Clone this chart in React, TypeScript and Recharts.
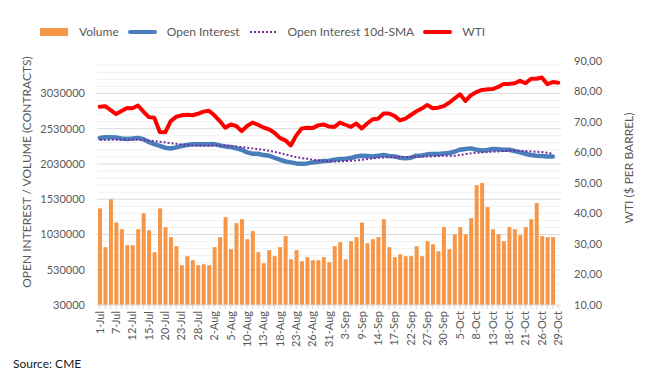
import React from 'react'
import {
  Bar,
  CartesianGrid,
  ComposedChart,
  Line,
  XAxis,
  YAxis
} from 'recharts'

const dates = [
  '1-Jul', '2-Jul', '6-Jul', '7-Jul', '8-Jul', '9-Jul', '12-Jul', '13-Jul', '14-Jul', '15-Jul',
  '16-Jul', '19-Jul', '20-Jul', '21-Jul', '22-Jul', '23-Jul', '26-Jul', '27-Jul', '28-Jul', '29-Jul',
  '30-Jul', '2-Aug', '3-Aug', '4-Aug', '5-Aug', '6-Aug', '9-Aug', '10-Aug', '11-Aug', '12-Aug',
  '13-Aug', '16-Aug', '17-Aug', '18-Aug', '19-Aug', '20-Aug', '23-Aug', '24-Aug', '25-Aug', '26-Aug',
  '27-Aug', '30-Aug', '31-Aug', '1-Sep', '2-Sep', '3-Sep', '7-Sep', '8-Sep', '9-Sep', '10-Sep',
  '13-Sep', '14-Sep', '15-Sep', '16-Sep', '17-Sep', '20-Sep', '21-Sep', '22-Sep', '23-Sep', '24-Sep',
  '27-Sep', '28-Sep', '29-Sep', '30-Sep', '1-Oct', '4-Oct', '5-Oct', '6-Oct', '7-Oct', '8-Oct',
  '11-Oct', '12-Oct', '13-Oct', '14-Oct', '15-Oct', '18-Oct', '19-Oct', '20-Oct', '21-Oct', '22-Oct',
  '25-Oct', '26-Oct', '27-Oct', '28-Oct', '29-Oct'
]

// volume in thousands of contracts (last day not yet published)
const volume = [
  1400, 850, 1530, 1200, 1105, 878, 878, 1105, 1330, 1090,
  779, 1400, 1134, 992, 864, 594, 722, 665, 594, 608,
  594, 850, 992, 1276, 821, 1190, 1247, 963, 1077, 779,
  622, 807, 722, 850, 1006, 679, 807, 651, 708, 665,
  665, 708, 637, 864, 921, 679, 935, 992, 1200, 906,
  963, 992, 1247, 850, 708, 750, 722, 722, 864, 722,
  935, 892, 793, 1134, 821, 1034, 1134, 1034, 1262, 1730,
  1759, 1418, 1105, 1034, 935, 1134, 1105, 1020, 1134, 1247,
  1475, 1006, 992, 992, null
]

// open interest in millions of contracts
const openInterest = [
  2.398, 2.41, 2.41, 2.405, 2.39, 2.385, 2.39, 2.4, 2.38, 2.34,
  2.31, 2.285, 2.26, 2.25, 2.265, 2.285, 2.3, 2.31, 2.31, 2.31,
  2.31, 2.312, 2.293, 2.279, 2.27, 2.251, 2.232, 2.194, 2.175, 2.175,
  2.156, 2.147, 2.118, 2.09, 2.066, 2.052, 2.038, 2.033, 2.038, 2.052,
  2.061, 2.071, 2.076, 2.09, 2.099, 2.104, 2.114, 2.137, 2.147, 2.142,
  2.137, 2.147, 2.156, 2.142, 2.137, 2.118, 2.109, 2.118, 2.147, 2.151,
  2.166, 2.17, 2.17, 2.178, 2.185, 2.203, 2.232, 2.241, 2.251, 2.232,
  2.222, 2.227, 2.241, 2.237, 2.232, 2.232, 2.213, 2.194, 2.175, 2.156,
  2.147, 2.142, 2.137, 2.137, null
]

const oiSma = [
  2.369, 2.369, 2.374, 2.374, 2.374, 2.374, 2.374, 2.374, 2.369, 2.364,
  2.355, 2.345, 2.336, 2.326, 2.317, 2.307, 2.298, 2.293, 2.288, 2.288,
  2.288, 2.293, 2.293, 2.288, 2.284, 2.279, 2.27, 2.26, 2.251, 2.241,
  2.232, 2.217, 2.203, 2.184, 2.165, 2.146, 2.127, 2.113, 2.104, 2.09,
  2.08, 2.075, 2.071, 2.066, 2.066, 2.071, 2.075, 2.08, 2.09, 2.099,
  2.108, 2.118, 2.123, 2.127, 2.127, 2.127, 2.127, 2.127, 2.132, 2.137,
  2.137, 2.137, 2.142, 2.146, 2.146, 2.146, 2.156, 2.17, 2.18, 2.189,
  2.194, 2.198, 2.203, 2.208, 2.213, 2.217, 2.217, 2.217, 2.213, 2.208,
  2.203, 2.198, 2.189, 2.175, null
]

const wti = [
  75.0, 75.2, 73.9, 72.6, 73.6, 74.6, 74.5, 75.4, 73.4, 71.6,
  71.4, 66.7, 66.6, 70.3, 71.7, 72.2, 72.4, 72.2, 72.7, 73.4,
  73.7, 72.2, 70.3, 68.1, 69.2, 68.7, 67.0, 68.7, 69.8, 69.1,
  68.2, 67.6, 66.5, 64.8, 64.0, 62.3, 65.6, 67.9, 68.1, 68.0,
  68.9, 69.2, 68.5, 68.4, 69.8, 69.1, 68.4, 69.5, 67.9, 69.5,
  70.9, 71.1, 72.8, 72.8, 72.0, 70.5, 71.1, 72.3, 73.5, 74.4,
  75.6, 74.5, 74.7, 75.2, 76.3, 77.7, 79.1, 76.9, 78.8, 79.8,
  80.5, 80.7, 80.8, 81.5, 82.5, 82.5, 82.7, 83.5, 82.7, 84.2,
  84.2, 84.6, 82.4, 83.1, 82.9
]

const leftTicks = [30000, 530000, 1030000, 1530000, 2030000, 2530000, 3030000]
const rightTicks = [10, 20, 30, 40, 50, 60, 70, 80, 90]

// gridlines every 100k; every fifth one is a major line
const gridValues: number[] = []
for (let v = 130000; v <= 3430000; v += 100000) gridValues.push(v)

const data = dates.map((d, i) => ({
  date: d,
  volume: volume[i] == null ? null : volume[i]! * 1000,
  oi: openInterest[i] == null ? null : openInterest[i]! * 1000000,
  sma: oiSma[i] == null ? null : oiSma[i]! * 1000000,
  wti: wti[i]
}))

const FONT = 'Lato, "Liberation Sans", sans-serif'
const TEXT = '#595959'
const ORANGE = '#F79646'
const BLUE = '#4A7EBB'
const PURPLE = '#7030A0'
const RED = '#FF0000'

const GridLine = (p: any) => {
  if (p.y1 !== p.y2) return <g key={p.key} />
  const v = gridValues[p.index]
  const major = v != null && (v - 30000) % 500000 === 0
  return (
    <line key={p.key} x1={p.x1} x2={p.x2} y1={p.y1} y2={p.y2}
      stroke={major ? '#D9D9D9' : '#F0F0F0'} strokeWidth={1} />
  )
}

const NoLine = (p: any) => <g key={p.key} />

const DateTick = ({ x, y, payload, index }: any) => {
  if (index % 3 !== 0) return null
  return (
    <text x={x} y={y} dy="0.35em" transform={`rotate(-90 ${x} ${y})`} textAnchor="end"
      fontSize={11} fill={TEXT} fontFamily={FONT}>
      {payload.value}
    </text>
  )
}

const legendItems = [
  { label: 'Volume', kind: 'box', color: ORANGE },
  { label: 'Open Interest', kind: 'line', color: BLUE },
  { label: 'Open Interest 10d-SMA', kind: 'dot', color: PURPLE },
  { label: 'WTI', kind: 'line', color: RED }
]

const ChartLegend = () => (
  <div style={{ position: 'absolute', left: 40, top: 24, display: 'flex', alignItems: 'center',
    fontFamily: FONT, fontSize: 12, color: TEXT }}>
    {legendItems.map((it) => (
      <div key={it.label} style={{ display: 'flex', alignItems: 'center', marginRight: 9 }}>
        <svg width={29} height={10} style={{ marginRight: 10 }}>
          {it.kind === 'box' && <rect x={0} y={1} width={28} height={8} fill={it.color} />}
          {it.kind === 'line' && (
            <line x1={2} y1={5} x2={27} y2={5} stroke={it.color} strokeWidth={4} strokeLinecap="round" />
          )}
          {it.kind === 'dot' && (
            <line x1={1} y1={5} x2={28} y2={5} stroke={it.color} strokeWidth={2} strokeDasharray="2 2" />
          )}
        </svg>
        <span>{it.label}</span>
      </div>
    ))}
  </div>
)

const AxisTitles = () => (
  <svg width={654} height={391} style={{ position: 'absolute', left: 0, top: 0, pointerEvents: 'none' }}>
    <text x={27} y={172} transform="rotate(-90 27 172)" textAnchor="middle" dy="0.35em"
      fontSize={12} fill={TEXT} fontFamily={FONT}>
      OPEN INTEREST / VOLUME (CONTRACTS)
    </text>
    <text x={629} y={168} transform="rotate(-90 629 168)" textAnchor="middle" dy="0.35em"
      fontSize={12} fill={TEXT} fontFamily={FONT}>
      WTI ($ PER BARREL)
    </text>
  </svg>
)

export default function App() {
  return (
    <div style={{ position: 'absolute', left: 0, top: 0, width: 654, height: 391, background: '#fff' }}>
      <ComposedChart width={654} height={391} data={data}
        margin={{ top: 61, right: 0, bottom: 0, left: 0 }} barCategoryGap="25%">
        <CartesianGrid yAxisId="left" horizontalValues={gridValues} horizontal={GridLine}
          vertical={NoLine} stroke="none" />
        <XAxis dataKey="date" interval={0} height={86} tick={<DateTick />} tickSize={4} tickMargin={2}
          stroke="#D9D9D9" tickLine={{ stroke: '#D9D9D9' }} axisLine={{ stroke: '#D9D9D9' }} />
        <YAxis yAxisId="left" width={97} domain={[30000, 3490000]} ticks={leftTicks} interval={0}
          axisLine={false} tickLine={false} tickSize={0} tickMargin={12} stroke="none"
          tick={{ fontSize: 11, fill: TEXT, fontFamily: FONT }} />
        <YAxis yAxisId="right" orientation="right" width={93} domain={[10, 90]} ticks={rightTicks}
          interval={0} axisLine={false} tickLine={false} tickSize={0} tickMargin={13} stroke="none"
          tickFormatter={(v: number) => v.toFixed(2).replace('.', ',')}
          tick={{ fontSize: 11, fill: TEXT, fontFamily: FONT }} />
        <Bar yAxisId="left" dataKey="volume" fill={ORANGE} barSize={4} isAnimationActive={false} />
        <Line yAxisId="left" type="linear" dataKey="oi" stroke={BLUE} strokeWidth={4.5} dot={false}
          strokeLinejoin="round" strokeLinecap="round" isAnimationActive={false} />
        <Line yAxisId="left" type="linear" dataKey="sma" stroke={PURPLE} strokeWidth={2}
          strokeDasharray="2 2" dot={false} isAnimationActive={false} />
        <Line yAxisId="right" type="linear" dataKey="wti" stroke={RED} strokeWidth={4} dot={false}
          strokeLinejoin="round" strokeLinecap="round" isAnimationActive={false} />
      </ComposedChart>
      <AxisTitles />
      <ChartLegend />
      <div style={{ position: 'absolute', left: 13, top: 356, fontFamily: FONT, fontSize: 12, color: '#1a1a1a' }}>
        Source: CME
      </div>
    </div>
  )
}
